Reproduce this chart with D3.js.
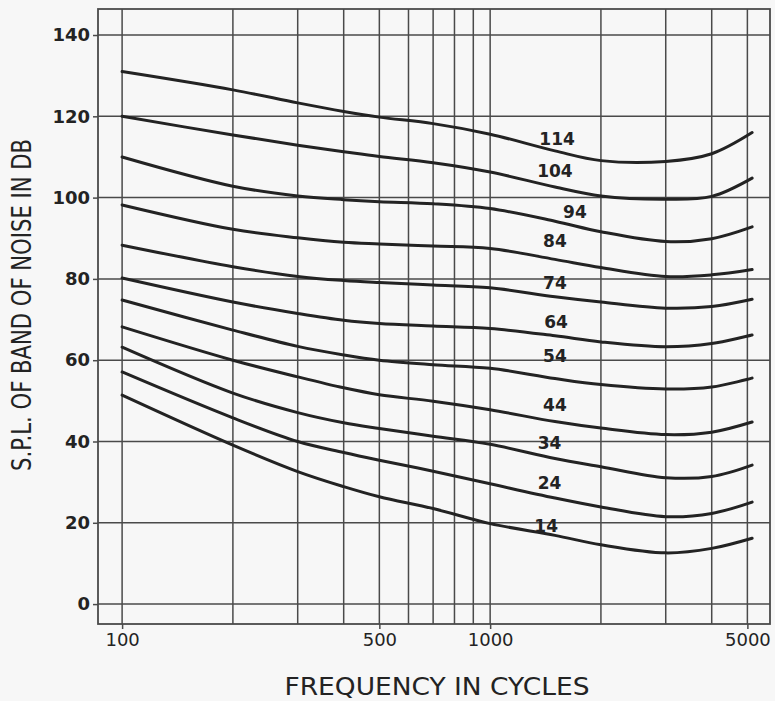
<!DOCTYPE html>
<html>
<head>
<meta charset="utf-8">
<script src="https://cdn.jsdelivr.net/npm/d3@7"></script>
<style>
  html, body { margin: 0; padding: 0; background: #f7f7f7; }
  svg { display: block; }
</style>
</head>
<body>
<svg id="chart" width="775" height="701"></svg>
<script>
// Band-noise loudness contours: SPL (dB) needed at each frequency
const frequencies = [100, 200, 300, 400, 500, 700, 1000, 1500, 2000, 3000, 4000, 5150];
const levels = [114, 104, 94, 84, 74, 64, 54, 44, 34, 24, 14];
const spl114 = [131, 126.5, 123.3, 121.2, 119.8, 118.2, 115.6, 111.5, 109.1, 108.9, 110.8, 116];
const spl104 = [120, 115.4, 112.9, 111.3, 110.1, 108.6, 106.3, 102.6, 100.4, 99.6, 100.3, 104.8];
const spl94  = [110, 102.8, 100.4, 99.5, 99.0, 98.5, 97.3, 94.2, 91.6, 89.2, 89.9, 92.8];
const spl84  = [98.2, 92.2, 90.1, 89.0, 88.6, 88.1, 87.5, 84.8, 82.8, 80.6, 81, 82.3];
const spl74  = [88.3, 83.0, 80.6, 79.6, 79.1, 78.5, 77.8, 75.6, 74.3, 72.8, 73.2, 75];
const spl64  = [80.2, 74.3, 71.5, 69.8, 69.0, 68.4, 67.8, 66, 64.5, 63.3, 64.1, 66.2];
const spl54  = [74.8, 67.4, 63.4, 61.3, 60.0, 58.9, 58.0, 55.5, 54, 52.9, 53.4, 55.6];
const spl44  = [68.2, 60.0, 55.9, 53.2, 51.5, 49.9, 47.8, 44.9, 43.3, 41.7, 42.3, 44.8];
const spl34  = [63.2, 51.9, 47.1, 44.6, 43.2, 41.3, 39.3, 35.8, 33.8, 31.1, 31.4, 34.2];
const spl24  = [57.1, 45.8, 40.0, 37.3, 35.4, 32.7, 29.6, 26.1, 23.9, 21.5, 22.3, 25.1];
const spl14  = [51.4, 39.1, 32.6, 28.9, 26.4, 23.5, 19.8, 16.9, 14.6, 12.6, 13.7, 16.2];
const seriesValues = [spl114, spl104, spl94, spl84, spl74, spl64, spl54, spl44, spl34, spl24, spl14];

const yTicks = [0, 20, 40, 60, 80, 100, 120, 140];
const xGrid = [100, 200, 300, 400, 500, 600, 700, 800, 900, 1000, 2000, 3000, 4000, 5000];
const xTickLabels = [100, 500, 1000, 5000];

// where each contour's level number is lettered (frequency, dB)
const labelFreq = [1520, 1500, 1700, 1500, 1500, 1510, 1500, 1500, 1450, 1450, 1420];
const labelDb   = [114.4, 106.5, 96.5, 89.3, 79, 69.4, 61, 49, 39.6, 29.8, 19.2];

const svg = d3.select("#chart");
const plotLeft = 98, plotRight = 770, plotTop = 9, plotBottom = 624;

const x = d3.scaleLog().domain([86, 5760]).range([plotLeft, plotRight]);
const y = d3.scaleLinear().domain([-4.9, 146.4]).range([plotBottom, plotTop]);

const ink = "#232323";
const gridInk = "#4a4a4a";

// grid
const g = svg.append("g");
g.selectAll(".vg").data(xGrid).join("line")
  .attr("x1", d => x(d)).attr("x2", d => x(d))
  .attr("y1", plotTop).attr("y2", plotBottom)
  .attr("stroke", gridInk).attr("stroke-width", 1.5);
g.selectAll(".hg").data(yTicks).join("line")
  .attr("x1", plotLeft).attr("x2", plotRight)
  .attr("y1", d => y(d)).attr("y2", d => y(d))
  .attr("stroke", gridInk).attr("stroke-width", 1.5);

// frame
svg.append("rect")
  .attr("x", plotLeft).attr("y", plotTop)
  .attr("width", plotRight - plotLeft).attr("height", plotBottom - plotTop)
  .attr("fill", "none").attr("stroke", gridInk).attr("stroke-width", 1.8);

// axes
const yAxis = svg.append("g")
  .attr("transform", `translate(${plotLeft},0)`)
  .call(d3.axisLeft(y).tickValues(yTicks).tickSize(5).tickPadding(3).tickFormat(d3.format("d")));
yAxis.select(".domain").remove();
yAxis.selectAll("line").attr("stroke", gridInk).attr("stroke-width", 1.5);
yAxis.selectAll("text")
  .attr("fill", ink)
  .style("font-family", "'DejaVu Sans', sans-serif")
  .style("font-size", "18px")
  .style("font-weight", "bold");

const xAxis = svg.append("g")
  .attr("transform", `translate(0,${plotBottom})`)
  .call(d3.axisBottom(x).tickValues(xTickLabels).tickSize(5).tickPadding(4).tickFormat(d3.format("d")));
xAxis.select(".domain").remove();
xAxis.selectAll("line").attr("stroke", gridInk).attr("stroke-width", 1.5);
xAxis.selectAll("text")
  .attr("fill", ink)
  .style("font-family", "'DejaVu Sans', sans-serif")
  .style("font-size", "18px");

// contours
const line = d3.line()
  .x(d => x(d[0]))
  .y(d => y(d[1]))
  .curve(d3.curveCatmullRom.alpha(0.5));

svg.append("g").selectAll("path")
  .data(seriesValues)
  .join("path")
  .attr("d", vals => line(frequencies.map((f, i) => [f, vals[i]])))
  .attr("fill", "none")
  .attr("stroke", ink)
  .attr("stroke-width", 3)
  .attr("stroke-linecap", "round");

// contour level labels
svg.append("g").selectAll("text")
  .data(levels)
  .join("text")
  .attr("x", (d, i) => x(labelFreq[i]))
  .attr("y", (d, i) => y(labelDb[i]))
  .attr("text-anchor", "middle")
  .attr("dominant-baseline", "central")
  .attr("fill", ink)
  .style("font-family", "'DejaVu Sans', sans-serif")
  .style("font-size", "17px")
  .style("font-weight", "bold")
  .text(d => d);

// axis titles
svg.append("text")
  .attr("transform", "translate(21,305) rotate(-90)")
  .attr("text-anchor", "middle")
  .attr("dominant-baseline", "central")
  .attr("textLength", 332)
  .attr("lengthAdjust", "spacingAndGlyphs")
  .attr("fill", ink)
  .style("font-family", "'DejaVu Sans', sans-serif")
  .style("font-size", "27px")
  .text("S.P.L. OF BAND OF NOISE IN DB");

svg.append("text")
  .attr("x", 437).attr("y", 695)
  .attr("text-anchor", "middle")
  .attr("textLength", 305)
  .attr("lengthAdjust", "spacingAndGlyphs")
  .attr("fill", ink)
  .style("font-family", "'DejaVu Sans', sans-serif")
  .style("font-size", "24px")
  .text("FREQUENCY IN  CYCLES");
</script>
</body>
</html>
